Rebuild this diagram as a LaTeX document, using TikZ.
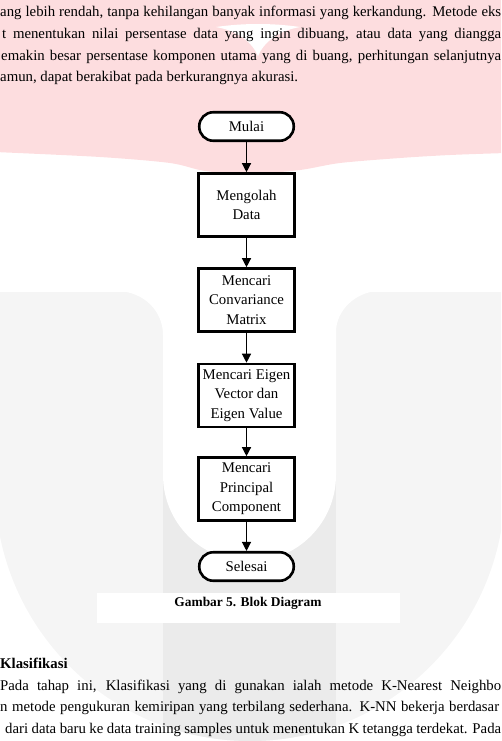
\documentclass[tikz,border=0pt]{standalone}
\usepackage{fontspec}
\setmainfont{Liberation Serif}
\usetikzlibrary{arrows.meta}
\definecolor{wmpink}{RGB}{253,221,223}
\definecolor{wmgray}{RGB}{245,245,245}
\definecolor{wmstem}{RGB}{235,235,235}
\begin{document}
\begin{tikzpicture}[x=1pt,y=-1pt,
  proc/.style={draw, line width=2.6pt, fill=white, minimum width=96.5pt, minimum height=63pt,
    align=center, inner sep=0pt, font=\fontsize{14.8}{19.5}\selectfont},
  term/.style={draw, line width=2.6pt, fill=white, rounded corners=14pt, minimum width=94.5pt,
    minimum height=28.5pt, inner sep=0pt, font=\fontsize{14.8}{19.5}\selectfont},
  flow/.style={-{Triangle[length=9pt,width=9pt]}, line width=1.3pt},
  body/.style={anchor=base west, inner sep=0pt, font=\fontsize{14.8}{21}\selectfont},
  bodyb/.style={anchor=base west, inner sep=0pt, font=\bfseries\fontsize{14.8}{21}\selectfont}
]
\useasboundingbox (0,0) rectangle (501,741);
\clip (0,0) rectangle (501,741);
% watermark: pink top
\fill[wmpink] (-5,-5) -- (506,-5) -- plot[smooth] coordinates {(506,153) (450,155) (400,158) (340,163) (300,170) (250,174) (205,171) (170,163) (100,157) (-5,152)} -- cycle;
\fill[white] (216,27) .. controls (238,31) and (252,42) .. (258,56) .. controls (264,42) and (278,31) .. (300,27)
  .. controls (272,23) and (244,23) .. (216,27) -- cycle;
% watermark: gray U
\fill[wmgray] (-5,292) rectangle (506,486.5);
\begin{scope}
  \clip (-5,486) rectangle (506,760);
  \fill[wmgray] (250,486) circle[radius=255];
\end{scope}
\begin{scope}
  \clip (250,486) circle[radius=255];
  \fill[wmstem] (163,470) rectangle (336,760);
\end{scope}
\fill[white] (118,291) -- (378,291) .. controls (356,292) and (336,310) .. (336,332)
  -- (336,475) .. controls (336,522.8) and (297.2,561.5) .. (249.5,561.5)
  .. controls (201.8,561.5) and (163,522.8) .. (163,475)
  -- (163,335) .. controls (163,311) and (144,292) .. (118,291) -- cycle;
% caption backdrop
\fill[white] (97,593) rectangle (400,623);

% body text
\node[body] (t1) at (0,17) {\makebox[501pt][s]{ang lebih rendah, tanpa kehilangan banyak informasi yang kerkandung. Metode eks}};
\node[body] (t2) at (2,39) {\makebox[499pt][s]{t menentukan nilai persentase data yang ingin dibuang, atau data yang diangga}};
\node[body] (t3) at (1,61) {\makebox[500pt][s]{emakin besar persentase komponen utama yang di buang, perhitungan selanjutnya}};
\node[body] (t4) at (0,82) {amun, dapat berakibat pada berkurangnya akurasi.};

\node[bodyb] (h1) at (0,668) {Klasifikasi};
\node[body] (b1) at (0,690) {\makebox[501pt][s]{Pada tahap ini, Klasifikasi yang di gunakan ialah metode K-Nearest Neighbo}};
\node[body] (b2) at (0,711.5) {\makebox[499pt][s]{n metode pengukuran kemiripan yang terbilang sederhana. K-NN bekerja berdasar}};
\node[body] (b3) at (5,733) {\makebox[496pt][s]{dari data baru ke data training samples untuk menentukan K tetangga terdekat. Pada}};

% caption
\node[anchor=base, inner sep=0pt, font=\bfseries\fontsize{13.4}{16}\selectfont] (cap) at (248,606) {Gambar 5. Blok Diagram};

% flowchart
\node[term] (mulai) at (246.5,126.5) {Mulai};
\node[proc] (olah) at (246.5,205) {Mengolah\\Data};
\node[proc] (cov) at (246.5,300) {Mencari\\Convariance\\Matrix};
\node[proc] (eig) at (246.5,395.5) {Mencari Eigen\\Vector dan\\Eigen Value};
\node[proc] (pc) at (246.5,489) {Mencari\\Principal\\Component};
\node[term] (selesai) at (246.5,566.5) {Selesai};

\draw[flow] (mulai.south) -- (olah.north);
\draw[flow] (olah.south) -- (cov.north);
\draw[flow] (cov.south) -- (eig.north);
\draw[flow] (eig.south) -- (pc.north);
\draw[flow] (pc.south) -- (selesai.north);
\end{tikzpicture}
\end{document}
